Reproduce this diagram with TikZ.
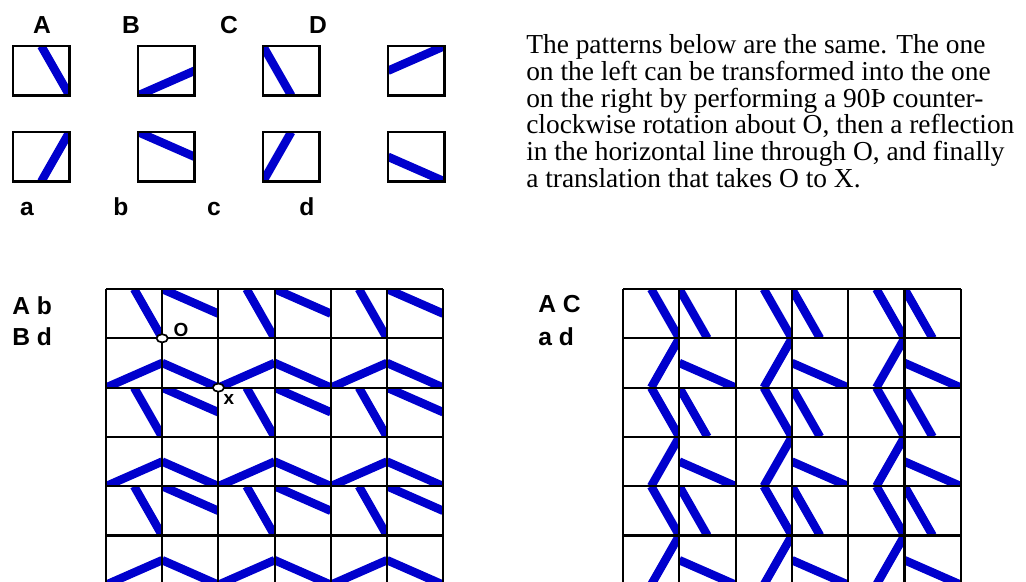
\documentclass[tikz,border=0pt]{standalone}
\usepackage{fontspec}
\setmainfont{Liberation Serif}
\setsansfont{Liberation Sans}
\usetikzlibrary{positioning}

\definecolor{motifblue}{RGB}{0,0,205}

\tikzset{
  motif/.style={draw=motifblue, line width=6pt},
  tileframe/.style={draw=black, line width=1.9pt},
  gridline/.style={draw=black, line width=1.5pt},
  letter/.style={font=\fontsize{17.5}{20}\selectfont\sffamily\bfseries, inner sep=0pt, anchor=base},
  pairs/.style={font=\fontsize{17.5}{20}\selectfont\sffamily\bfseries, inner sep=0pt, anchor=base west},
  pointlabel/.style={font=\fontsize{13.5}{16}\selectfont\sffamily\bfseries, inner sep=0pt},
  pointmark/.style={draw=black, fill=white, line width=1.2pt},
  % the eight tiles, one cell = (0,0) rectangle (1,1), y going down
  tile A/.pic={\clip (0,0) rectangle (1,1); \draw[motif] (0.5,0) -- (1,1);},
  tile B/.pic={\clip (0,0) rectangle (1,1); \draw[motif] (0,1) -- (1,0.5);},
  tile C/.pic={\clip (0,0) rectangle (1,1); \draw[motif] (0,0) -- (0.5,1);},
  tile D/.pic={\clip (0,0) rectangle (1,1); \draw[motif] (0,0.5) -- (1,0);},
  tile a/.pic={\clip (0,0) rectangle (1,1); \draw[motif] (0.5,1) -- (1,0);},
  tile b/.pic={\clip (0,0) rectangle (1,1); \draw[motif] (0,0) -- (1,0.5);},
  tile c/.pic={\clip (0,0) rectangle (1,1); \draw[motif] (0,1) -- (0.5,0);},
  tile d/.pic={\clip (0,0) rectangle (1,1); \draw[motif] (0,0.5) -- (1,1);}
}

% x, y (top left), width, height, tile
\newcommand{\tilecell}[5]{\pic[shift={(#1,#2)}, xscale=#3, yscale=#4] {tile #5};}

\begin{document}
\begin{tikzpicture}[x=0.025cm, y=-0.025cm]
\useasboundingbox (0,0) rectangle (1026,581);

% Tiles
\foreach \tx/\up/\low in {13/A/a, 138/B/b, 263/C/c, 388/D/d} {
  \tilecell{\tx}{46}{56.5}{49.5}{\up}
  \tilecell{\tx}{132}{56.5}{49.5}{\low}
  \draw[tileframe] (\tx,46) rectangle ++(56.5,49.5);
  \draw[tileframe] (\tx,132) rectangle ++(56.5,49.5);
}
\node[letter] (labA) at (42,33) {A};
\node[letter] (labB) at (131,33) {B};
\node[letter] (labC) at (229,33) {C};
\node[letter] (labD) at (318,33) {D};
\node[letter] (laba) at (27,215) {a};
\node[letter] (labb) at (121,215) {b};
\node[letter] (labc) at (214,215) {c};
\node[letter] (labd) at (307,215) {d};

% Explanation
\node[anchor=north west, inner sep=0pt, align=left,
  font=\fontsize{19.5}{19.1}\selectfont] (intro) at (526,34)
  {The patterns below are the same. The one\\
   on the left can be transformed into the one\\
   on the right by performing a 90Þ counter-\\
   clockwise rotation about O, then a reflection\\
   in the horizontal line through O, and finally\\
   a translation that takes O to X.};

% Left pattern
\node[pairs] (leftup) at (12,314) {A b};
\node[pairs] (leftlow) at (12,345) {B d};
\foreach \r in {0,2,4} {
  \foreach \c in {0,2,4} {
    \tilecell{106+\c*56.2}{289+\r*49.3}{56.2}{49.3}{A}
    \tilecell{106+\c*56.2+56.2}{289+\r*49.3}{56.2}{49.3}{b}
    \tilecell{106+\c*56.2}{289+\r*49.3+49.3}{56.2}{49.3}{B}
    \tilecell{106+\c*56.2+56.2}{289+\r*49.3+49.3}{56.2}{49.3}{d}
  }
}
\foreach \i in {0,...,6} {
  \draw[gridline] (106+\i*56.2,289) -- (106+\i*56.2,590);
  \draw[gridline] (106,289+\i*49.3) -- (443.2,289+\i*49.3);
}
\coordinate (ptO) at (162.2,338.3);
\coordinate (ptX) at (218.4,387.6);
\draw[pointmark] (ptO) ellipse [x radius=4pt, y radius=2.9pt];
\draw[pointmark] (ptX) ellipse [x radius=4pt, y radius=2.9pt];
\node[pointlabel] (labO) at (181,330) {O};
\node[pointlabel] (labX) at (229,399) {x};

% Right pattern
\node[pairs] (rightup) at (538,312) {A C};
\node[pairs] (rightlow) at (538,345) {a d};
\foreach \r in {0,2,4} {
  \foreach \c in {0,2,4} {
    \tilecell{623+\c*56.3}{289+\r*49.3}{56.3}{49.3}{A}
    \tilecell{623+\c*56.3+56.3}{289+\r*49.3}{56.3}{49.3}{C}
    \tilecell{623+\c*56.3}{289+\r*49.3+49.3}{56.3}{49.3}{a}
    \tilecell{623+\c*56.3+56.3}{289+\r*49.3+49.3}{56.3}{49.3}{d}
  }
}
\foreach \i in {0,...,6} {
  \draw[gridline] (623+\i*56.3,289) -- (623+\i*56.3,590);
  \draw[gridline] (623,289+\i*49.3) -- (960.8,289+\i*49.3);
}
\end{tikzpicture}
\end{document}
